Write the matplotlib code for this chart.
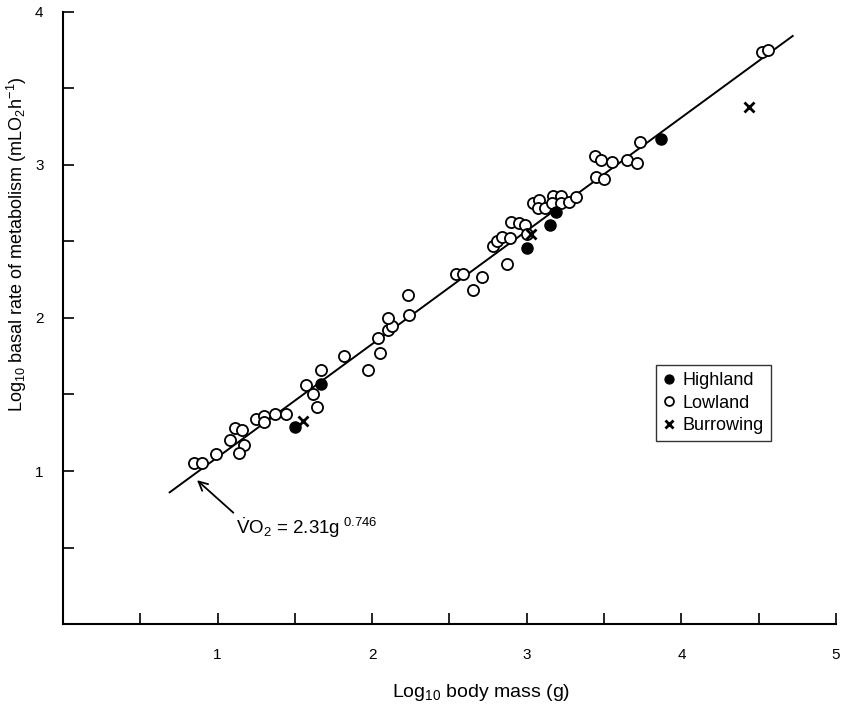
import matplotlib
matplotlib.use("Agg")
import matplotlib.pyplot as plt
import numpy as np

plt.rcParams['font.family'] = ['Liberation Sans', 'DejaVu Sans']
plt.rcParams['mathtext.fontset'] = 'custom'
plt.rcParams['mathtext.rm'] = 'Liberation Sans'
plt.rcParams['mathtext.it'] = 'Liberation Sans:italic'
plt.rcParams['mathtext.bf'] = 'Liberation Sans:bold'

# log10 body mass (g) / log10 basal rate
lowland_x = [0.85, 0.90, 0.99, 1.08, 1.11, 1.16, 1.17, 1.14, 1.25, 1.30, 1.30,
             1.37, 1.44, 1.57, 1.67, 1.62, 1.64, 1.82, 1.97, 2.05, 2.04, 2.10,
             2.13, 2.10, 2.24, 2.23, 2.54, 2.59, 2.65, 2.71, 2.87, 2.78, 2.81,
             2.84, 2.89, 2.90, 2.95, 2.99, 3.00, 3.04, 3.08, 3.07, 3.12, 3.17,
             3.22, 3.16, 3.22, 3.27, 3.32, 3.45, 3.50, 3.44, 3.48, 3.55, 3.65,
             3.71, 3.73, 4.52, 4.56]
lowland_y = [1.05, 1.05, 1.11, 1.20, 1.28, 1.27, 1.17, 1.12, 1.34, 1.36, 1.32,
             1.37, 1.37, 1.56, 1.66, 1.50, 1.42, 1.75, 1.66, 1.77, 1.87, 1.92,
             1.95, 2.00, 2.02, 2.15, 2.29, 2.29, 2.18, 2.27, 2.35, 2.47, 2.50,
             2.53, 2.52, 2.63, 2.62, 2.61, 2.55, 2.75, 2.77, 2.72, 2.72, 2.80,
             2.80, 2.75, 2.75, 2.76, 2.79, 2.92, 2.91, 3.06, 3.03, 3.02, 3.03,
             3.01, 3.15, 3.74, 3.75]

highland_x = [1.50, 1.67, 3.00, 3.15, 3.19, 3.87]
highland_y = [1.29, 1.57, 2.46, 2.61, 2.69, 3.17]

burrow_x = [1.55, 3.03, 4.44]
burrow_y = [1.33, 2.55, 3.38]

# fitted allometric line (log form)
fit_intercept = 0.35
fit_slope = 0.74
fit_range = [0.69, 4.72]

fig = plt.figure(figsize=(8.5, 7.06), dpi=100)
ax = fig.add_axes([0.0741, 0.1161, 0.9094, 0.867])

fx = np.array(fit_range)
ax.plot(fx, fit_intercept + fit_slope * fx, color='black', lw=1.4, zorder=1)

ax.plot(lowland_x, lowland_y, 'o', ms=8, mfc='white', mec='black', mew=1.3,
        ls='none', label='Lowland', zorder=2)
ax.plot(highland_x, highland_y, 'o', ms=8, mfc='black', mec='black',
        ls='none', label='Highland', zorder=3)
ax.plot(burrow_x, burrow_y, 'x', ms=7, mew=2, color='black',
        ls='none', label='Burrowing', zorder=3)

ax.set_xlim(0, 5)
ax.set_ylim(0, 4)
xt = np.arange(0.5, 5.01, 0.5)
yt = np.arange(0.5, 4.01, 0.5)
ax.set_xticks(xt)
ax.set_xticklabels(['' if v % 1 else str(int(v)) for v in xt])
ax.set_yticks(yt)
ax.set_yticklabels(['' if v % 1 else str(int(v)) for v in yt])
ax.tick_params(direction='in', length=8, width=1.2, labelsize=11)
ax.tick_params(axis='x', pad=17)
ax.tick_params(axis='y', pad=14)

for s in ['top', 'right']:
    ax.spines[s].set_visible(False)
for s in ['left', 'bottom']:
    ax.spines[s].set_linewidth(1.5)

ax.set_xlabel('Log$_{10}$ body mass (g)', fontsize=14)
ax.xaxis.set_label_coords(0.541, -0.094)
ax.set_ylabel('Log$_{10}$ basal rate of metabolism (mLO$_2$h$^{-1}$)', fontsize=13)
ax.yaxis.set_label_coords(-0.044, 0.62)

handles, labels = ax.get_legend_handles_labels()
order = [1, 0, 2]
leg = ax.legend([handles[i] for i in order], [labels[i] for i in order],
                loc='upper left', bbox_to_anchor=(0.767, 0.423), borderaxespad=0,
                fontsize=13, handlelength=0.7, handletextpad=0.4,
                borderpad=0.4, labelspacing=0.3, fancybox=False,
                edgecolor='black', markerscale=0.8)
leg.get_frame().set_linewidth(1.0)

ax.annotate(r'$\dot{\mathrm{V}}\mathrm{O}_2$ = 2.31g$^{\ 0.746}$',
            xy=(0.867, 0.94), xytext=(1.12, 0.59), fontsize=13.5,
            ha='left', va='baseline',
            arrowprops=dict(arrowstyle='->', color='black', lw=1.3,
                            shrinkA=0, shrinkB=0, mutation_scale=16,
                            relpos=(0, 1)))

fig.savefig('out.png', dpi=100)
